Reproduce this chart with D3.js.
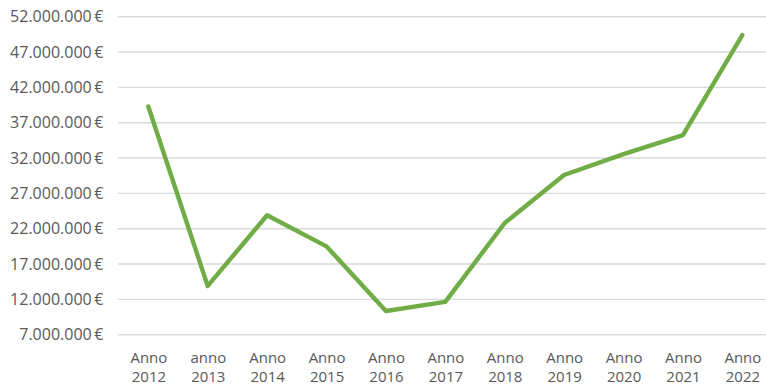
<!DOCTYPE html>
<html><head><meta charset="utf-8">
<script src="https://cdn.jsdelivr.net/npm/d3@7"></script>
<style>body{margin:0;background:#fff;}svg{display:block;}</style>
</head><body>
<script>
const categoriesTop = ["Anno","anno","Anno","Anno","Anno","Anno","Anno","Anno","Anno","Anno","Anno"];
const categoriesYear = ["2012","2013","2014","2015","2016","2017","2018","2019","2020","2021","2022"];
const values = [39300000,13900000,23900000,19500000,10350000,11650000,22800000,29600000,32550000,35250000,49400000];
const yTicks = [7000000,12000000,17000000,22000000,27000000,32000000,37000000,42000000,47000000,52000000];

const W=766,H=385;
const svg=d3.select("body").append("svg").attr("width",W).attr("height",H);
const x=d3.scaleBand().domain(categoriesYear).range([118.6,772]);
const y=d3.scaleLinear().domain([7000000,52000000]).range([334.7,16.7]);
const fmt=v=>d3.format(",")(v).replace(/,/g,".")+"\u2009€";

const font="'Open Sans', 'Liberation Sans', sans-serif";
svg.append("g").selectAll("line").data(yTicks).join("line")
  .attr("x1",118).attr("x2",W).attr("y1",d=>y(d)).attr("y2",d=>y(d))
  .attr("stroke","#d9d9d9").attr("stroke-width",1.4);
svg.append("g").selectAll("text").data(yTicks).join("text")
  .attr("x",103.5).attr("y",d=>y(d)).attr("dy","0.36em").attr("text-anchor","end")
  .attr("font-family",font).attr("font-size",16).attr("fill","#595959").text(fmt);

const cx=d=>x(d)+x.bandwidth()/2+0.6;
const xl=svg.append("g").selectAll("text").data(categoriesYear).join("text")
  .attr("text-anchor","middle")
  .attr("font-family",font).attr("font-size",15).attr("fill","#595959");
xl.append("tspan").attr("x",cx).attr("y",363).text((d,i)=>categoriesTop[i]);
xl.append("tspan").attr("x",cx).attr("y",382).text(d=>d);

const line=d3.line().x((d,i)=>x(categoriesYear[i])+x.bandwidth()/2).y(d=>y(d));
svg.append("path").datum(values).attr("d",line).attr("fill","none")
  .attr("stroke","#70ad47").attr("stroke-width",4.4).attr("stroke-linejoin","round").attr("stroke-linecap","round");
</script>
</body></html>
